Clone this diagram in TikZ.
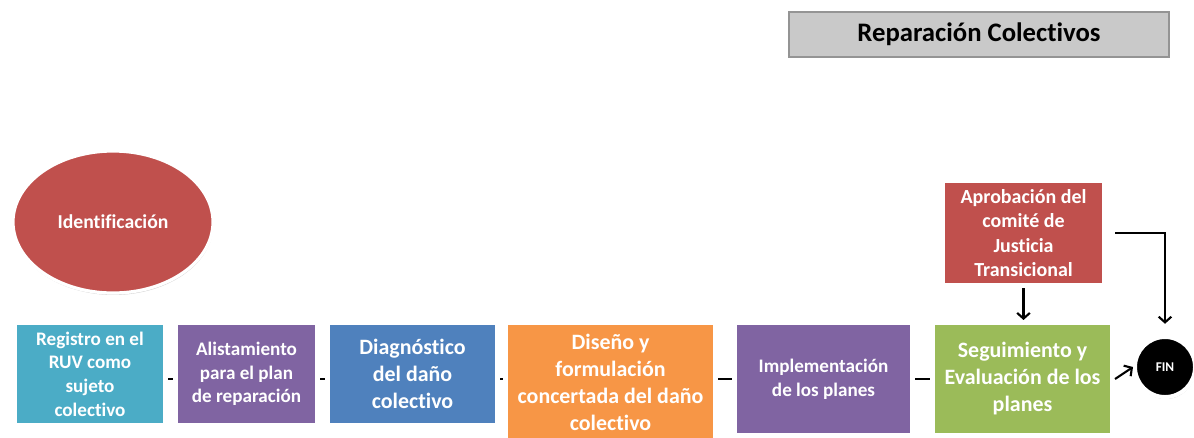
\documentclass[tikz,border=0pt]{standalone}
\usepackage{fontspec}
\setmainfont{Carlito}[Ligatures=NoCommon]
\usepackage{xcolor}
\usepackage{tikz}
\usetikzlibrary{shapes.geometric,shadows,arrows.meta,calc}

\definecolor{stepteal}{HTML}{4BACC6}
\definecolor{steppurple}{HTML}{8064A2}
\definecolor{stepblue}{HTML}{4F81BD}
\definecolor{steporange}{HTML}{F79646}
\definecolor{stepgreen}{HTML}{9BBB59}
\definecolor{stepred}{HTML}{C0504D}

\begin{document}
\begin{tikzpicture}[
    x=0.025cm, y=-0.025cm,
    stepbox/.style={rectangle, draw=white, line width=0.125cm, align=center, text=white, inner sep=2pt,
        drop shadow={shadow xshift=0.4pt, shadow yshift=-1.4pt, opacity=0.35}},
    txtsmall/.style={font=\bfseries\fontsize{13.6}{16.8}\selectfont},
    txtbig/.style={font=\bfseries\fontsize{15.6}{19.2}\selectfont},
    link/.style={line width=2pt},
    arrow/.style={-{Straight Barb[length=4pt,width=9pt]}, line width=1.5pt}
]
\useasboundingbox (0,0) rectangle (1194,437);

% Title
\node[rectangle, fill=black!21, draw=black!42, line width=1.6pt, minimum width=9.5cm, minimum height=1.125cm,
      font=\bfseries\fontsize{19}{22}\selectfont] (title) at (979,34.5) {Reparación Colectivos};

% Start
\node[ellipse, fill=stepred, draw=white, line width=0.08cm, minimum width=5cm, minimum height=3.55cm, inner sep=0pt,
      text=white, font=\bfseries\fontsize{14}{17}\selectfont,
      drop shadow={shadow xshift=0.4pt, shadow yshift=-1.4pt, opacity=0.35}] (ident) at (113,222) {Identificación};

% Steps
\node[stepbox, txtsmall, fill=stepteal, minimum width=3.775cm, minimum height=2.575cm] (reg) at (90,374)
    {Registro en el\\ RUV como\\ sujeto\\ colectivo};
\node[stepbox, txtsmall, fill=steppurple, minimum width=3.55cm, minimum height=2.575cm] (alist) at (246.5,374)
    {Alistamiento\\ para el plan\\ de reparación};
\node[stepbox, txtbig, fill=stepblue, minimum width=4.25cm, minimum height=2.575cm] (diag) at (412.5,374)
    {Diagnóstico\\ del daño\\ colectivo};
\node[stepbox, txtbig, fill=steporange, minimum width=5.25cm, minimum height=2.975cm] (dise) at (610.5,382)
    {Diseño y\\ formulación\\ concertada del daño\\ colectivo};
\node[stepbox, txtsmall, fill=steppurple, minimum width=4.45cm, minimum height=2.825cm] (impl) at (823.5,379)
    {Implementación\\ de los planes};
\node[stepbox, txtbig, fill=stepgreen, minimum width=4.5cm, minimum height=2.825cm] (segu) at (1022.5,379)
    {Seguimiento y\\ Evaluación de los\\ planes};

% Approval
\node[stepbox, font=\bfseries\fontsize{14.2}{17.4}\selectfont, fill=stepred, minimum width=4.05cm, minimum height=2.625cm] (apro) at (1023.5,233)
    {Aprobación del\\ comité de\\ Justicia\\ Transicional};

% End
\node[circle, fill=black, draw=white, line width=0.1cm, minimum size=1.5cm, inner sep=0pt, text=white,
      font=\bfseries\fontsize{9.5}{11}\selectfont,
      drop shadow={shadow xshift=0.4pt, shadow yshift=-1.4pt, opacity=0.35}] (fin) at (1165,367) {FIN};

% Links between steps
\draw[link] (reg.east |- impl.west) -- (alist.west |- impl.west);
\draw[link] (alist.east |- impl.west) -- (diag.west |- impl.west);
\draw[link] (diag.east |- impl.west) -- (dise.west |- impl.west);
\draw[link] (dise.east |- impl.west) -- (impl.west);
\draw[link] (impl.east) -- (segu.west);

% Arrows
\draw[arrow] (apro.south) -- (apro.south |- segu.north);
\draw[arrow, shorten <=6pt, shorten >=8pt] (apro.east) -| (fin.north);
\draw[arrow] (segu.east) -- (fin.west);

\end{tikzpicture}
\end{document}
